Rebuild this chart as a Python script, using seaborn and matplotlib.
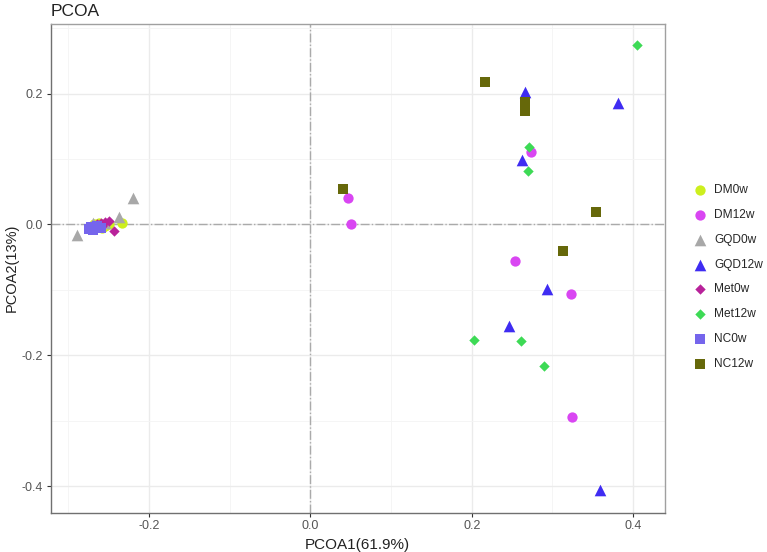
import pandas as pd
import matplotlib.pyplot as plt
import seaborn as sb

# datos PCoA
grupos = ["DM0w", "DM12w", "GQD0w", "GQD12w", "Met0w", "Met12w", "NC0w", "NC12w"]

dm0w_x = [-0.233, -0.258, -0.262, -0.268, -0.255, -0.250]
dm0w_y = [0.003, -0.006, 0.002, 0.000, -0.003, 0.001]
dm12w_x = [0.046, 0.050, 0.274, 0.254, 0.323, 0.324]
dm12w_y = [0.040, 0.001, 0.111, -0.056, -0.107, -0.295]
gqd0w_x = [-0.220, -0.237, -0.289, -0.262, -0.270, -0.255]
gqd0w_y = [0.041, 0.011, -0.016, -0.002, 0.003, 0.002]
gqd12w_x = [0.266, 0.381, 0.262, 0.293, 0.246, 0.359]
gqd12w_y = [0.203, 0.186, 0.099, -0.099, -0.155, -0.406]
met0w_x = [-0.250, -0.243, -0.260, -0.255, -0.265, -0.258]
met0w_y = [0.005, -0.010, 0.003, 0.004, 0.001, -0.002]
met12w_x = [0.405, 0.271, 0.270, 0.203, 0.261, 0.289]
met12w_y = [0.274, 0.118, 0.082, -0.176, -0.178, -0.217]
nc0w_x = [-0.274, -0.264, -0.270, -0.260, -0.272, -0.266]
nc0w_y = [-0.007, -0.002, -0.008, -0.005, -0.004, -0.006]
nc12w_x = [0.216, 0.266, 0.266, 0.354, 0.313, 0.040]
nc12w_y = [0.218, 0.187, 0.173, 0.019, -0.040, 0.055]

xs = [dm0w_x, dm12w_x, gqd0w_x, gqd12w_x, met0w_x, met12w_x, nc0w_x, nc12w_x]
ys = [dm0w_y, dm12w_y, gqd0w_y, gqd12w_y, met0w_y, met12w_y, nc0w_y, nc12w_y]

colores = ["#CDEF1E", "#D946F2", "#A8A8A8", "#3F2CF2", "#B8229A", "#3DDA55", "#7565EC", "#66680A"]
marcadores = ["o", "o", "^", "^", "D", "D", "s", "s"]
tamanos = [55, 55, 70, 70, 28, 28, 50, 50]

filas = []
for g, xx, yy in zip(grupos, xs, ys):
    for a, b in zip(xx, yy):
        filas.append({"grupo": g, "PC1": a, "PC2": b})
df_pcoa = pd.DataFrame(filas)

sb.set_style("white")
plt.rcParams['font.family'] = ['Liberation Sans', 'DejaVu Sans']
plt.rcParams['axes.unicode_minus'] = False

fig = plt.figure(figsize=(7.67, 5.52), dpi=100)
ax = fig.add_axes([0.066, 0.071, 0.801, 0.886])

# lineas de referencia en cero
ax.axvline(0, color="#AAAAAA", lw=1, ls="-.", zorder=1)
ax.axhline(0, color="#AAAAAA", lw=1, ls="-.", zorder=1)

for g, c, m, s in zip(grupos, colores, marcadores, tamanos):
    sb.scatterplot(data=df_pcoa[df_pcoa["grupo"] == g], x="PC1", y="PC2",
                   color=c, marker=m, s=s, linewidth=0, label=g, ax=ax, zorder=3)

ax.set_xlim(-0.322, 0.4395)
ax.set_ylim(-0.441, 0.307)
ax.set_xticks([-0.2, 0.0, 0.2, 0.4])
ax.set_yticks([-0.4, -0.2, 0.0, 0.2])
ax.set_xticks([-0.3, -0.1, 0.1, 0.3], minor=True)
ax.set_yticks([-0.3, -0.1, 0.1, 0.3], minor=True)
ax.grid(True, which="major", color="#EBEBEB", lw=1, zorder=0)
ax.grid(True, which="minor", color="#F4F4F4", lw=0.6, zorder=0)
ax.set_axisbelow(True)

for lado in ["top", "right"]:
    ax.spines[lado].set_color("#A0A0A0")
for lado in ["left", "bottom"]:
    ax.spines[lado].set_color("#707070")
for sp in ax.spines.values():
    sp.set_linewidth(1)

ax.tick_params(which="major", direction="out", length=3, width=0.8, color="#333333",
               labelsize=9, labelcolor="#555555", bottom=True, left=True, pad=2.5)
ax.tick_params(which="minor", length=0)

ax.set_xlabel("PCOA1(61.9%)", fontsize=11, color="#222222", labelpad=4)
ax.set_ylabel("PCOA2(13%)", fontsize=10.5, color="#222222", labelpad=2)
fig.text(0.066, 0.966, "PCOA", fontsize=12.5, color="#222222", ha="left", va="bottom")

ax.legend(loc="center left", bbox_to_anchor=(1.029, 0.482), frameon=False, fontsize=8.6,
          handletextpad=0.25, labelspacing=1.07, borderaxespad=0, markerscale=1.0)

plt.savefig("out.png", dpi=100)
